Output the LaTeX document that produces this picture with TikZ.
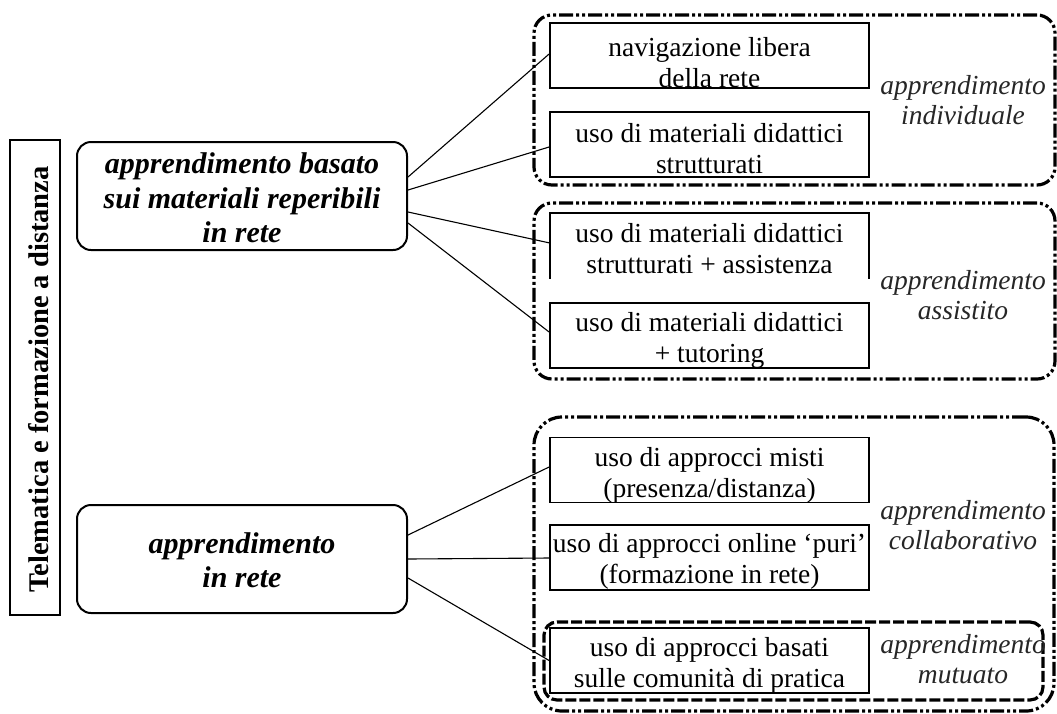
\documentclass[tikz,border=0pt]{standalone}
\usepackage{fontspec}
\setmainfont{Liberation Serif}
\usetikzlibrary{calc}
\tikzset{
  grp/.style={draw, line width=3.2pt, dash pattern=on 14pt off 3pt on 3pt off 3pt on 3pt off 3pt, rounded corners=18pt, inner sep=0pt},
  grpdash/.style={draw, line width=3.2pt, dash pattern=on 11pt off 3pt, rounded corners=13pt, inner sep=0pt},
  item/.style={draw, line width=1.8pt, minimum width=319pt, minimum height=65pt, inner sep=0pt},
  openitem/.style={draw=none, minimum width=319pt, minimum height=65pt, inner sep=0pt},
  itemtext/.style={font=\fontsize{27.5}{31}\selectfont, align=center, text height=18.6pt, text depth=6.2pt, inner sep=0pt},
  lbl/.style={font=\itshape\fontsize{27.5}{30}\selectfont, align=center, text height=18.6pt, text depth=6.2pt, inner sep=0pt, text=black!85},
  mainbox/.style={draw, line width=2pt, rounded corners=14pt, minimum width=330pt, minimum height=108pt, inner sep=0pt},
  maintext/.style={font=\bfseries\itshape\fontsize{30}{34.5}\selectfont, align=center, text height=20.7pt, text depth=6.9pt, inner sep=0pt},
  titlebox/.style={draw, line width=1.8pt, minimum width=50pt, minimum height=475pt, inner sep=0pt},
  titletext/.style={font=\bfseries\fontsize{28.5}{32}\selectfont, rotate=90, text height=19.3pt, text depth=6.4pt, inner sep=0pt},
  link/.style={line width=1.1pt}
}
\begin{document}
\begin{tikzpicture}[x=1pt,y=-1pt]
\useasboundingbox (0,0) rectangle (1057,713);

% groups
\node[grp, minimum width=521pt, minimum height=170pt] (g1) at (794.5,100) {};
\node[grp, minimum width=521pt, minimum height=176pt] (g2) at (794.5,291) {};
\node[grp, rounded corners=28pt, minimum width=520pt, minimum height=294pt] (g3) at (794,564) {};
\node[grpdash, minimum width=499pt, minimum height=78pt] (g4) at (793.5,661) {};

% title
\node[titlebox] (title) at (35,377.5) {};
\node[titletext] (titlet) at (42,379.5) {Telematica e formazione a distanza};

% main boxes
\node[mainbox] (bA) at (242,196) {};
\node[maintext] (tA) at (242,236) {apprendimento basato\\sui materiali reperibili\\in rete};
\node[mainbox] (bB) at (242,559) {};
\node[maintext] (tB) at (242,580.75) {apprendimento\\in rete};

% items
\node[item] (b1) at (709.5,55.5) {};
\node[item] (b2) at (709.5,144.5) {};
\node[openitem] (b3) at (709.5,246) {};
\draw[line width=1.8pt] (b3.south west) |- (b3.north east) -- (b3.south east);
\node[item] (b4) at (709.5,335.5) {};
\node[item] (b5) at (709.5,470) {};
\node[item] (b6) at (709.5,557.5) {};
\node[item] (b7) at (709.5,660.5) {};

% links
\draw[link] ($(bA.east)+(0,-19)$) -- ($(b1.west)+(0,-1.5)$);
\draw[link] ($(bA.east)+(0,-6)$) -- ($(b2.west)+(0,2.5)$);
\draw[link] ($(bA.east)+(0,16)$) -- ($(b3.west)+(0,-3)$);
\draw[link] ($(bA.east)+(0,27)$) -- ($(b4.west)+(0,-3.5)$);
\draw[link] ($(bB.east)+(0,-24)$) -- ($(b5.west)+(0,-3)$);
\draw[link] (bB.east) -- ($(b6.west)+(0,0.5)$);
\draw[link] ($(bB.east)+(0,19)$) -- (b7.west);

% item texts
\node[itemtext] (t1) at (709.5,81) {navigazione libera\\della rete};
\node[itemtext] (t2) at (709.5,167) {uso di materiali didattici\\strutturati};
\node[itemtext] (t3) at (709.5,267) {uso di materiali didattici\\strutturati + assistenza};
\node[itemtext] (t4) at (709.5,356.5) {uso di materiali didattici\\+ tutoring};
\node[itemtext] (t5) at (709.5,491.5) {uso di approcci misti\\(presenza/distanza)};
\node[itemtext] (t6) at (709.5,577.5) {uso di approcci online ‘puri’\\(formazione in rete)};
\node[itemtext] (t7) at (709.5,681.5) {uso di approcci basati\\sulle comunità di pratica};

% group labels
\node[lbl] (l1) at (963,118.5) {apprendimento\\individuale};
\node[lbl] (l2) at (963,313.5) {apprendimento\\assistito};
\node[lbl] (l3) at (963,543) {apprendimento\\collaborativo};
\node[lbl] (l4) at (963,677) {apprendimento\\mutuato};
\end{tikzpicture}
\end{document}
